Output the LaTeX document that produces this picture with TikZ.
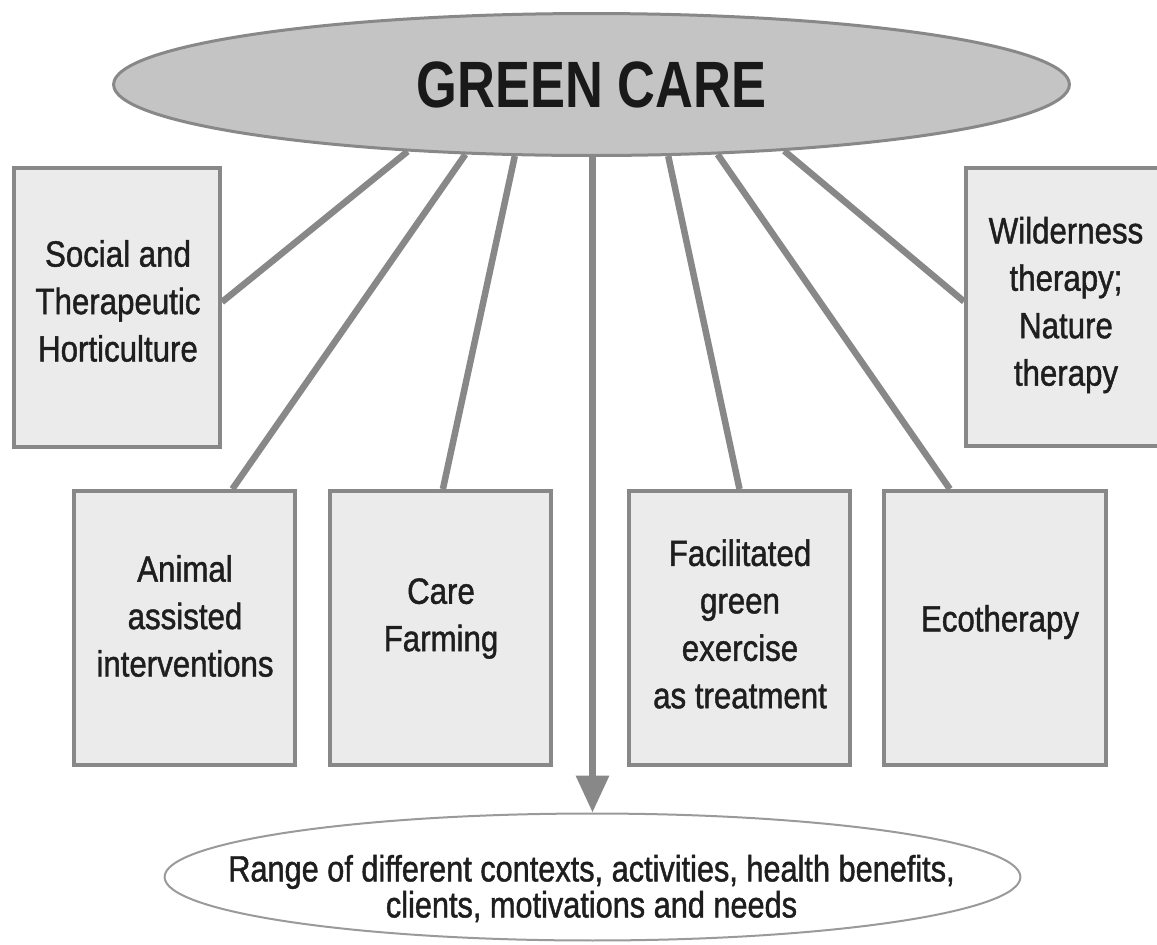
\documentclass[tikz,border=0pt]{standalone}
\usepackage{fontspec}
\setmainfont{Liberation Sans}
\newfontfamily\boxfont[FakeStretch=0.855,FakeBold=1.2]{Liberation Sans}
\newfontfamily\ctxfont[FakeStretch=0.84,FakeBold=1.2]{Liberation Sans}
\newfontfamily\titlefont[FakeStretch=0.80]{Liberation Sans Bold}
\usetikzlibrary{shapes.geometric,arrows.meta}
\definecolor{linegray}{HTML}{888888}
\definecolor{boxfill}{HTML}{EBEBEB}
\definecolor{topfill}{HTML}{C4C4C4}
\definecolor{txt}{HTML}{1E1E1E}
\begin{document}
\begin{tikzpicture}[x=0.02cm,y=-0.02cm,
  box/.style={draw=linegray, line width=0.08cm, fill=boxfill, inner sep=0pt, rectangle},
  upbox/.style={box, minimum width=4.12cm, minimum height=5.58cm},
  lowbox/.style={box, minimum width=4.44cm, minimum height=5.48cm},
  lbl/.style={align=center, text=txt, font=\boxfont\fontsize{20.8}{27}\selectfont, inner sep=0pt},
  conn/.style={draw=linegray, line width=0.13cm},
]
\useasboundingbox (0,0) rectangle (1157,944);

% top ellipse
\node[ellipse, draw=linegray, line width=0.06cm, fill=topfill, minimum width=19.12cm,
      minimum height=2.84cm, inner sep=0pt, text=black!90,
      font=\titlefont\fontsize{37.3}{40}\selectfont] (top) at (591.5,84.5) {GREEN CARE};

% boxes
\node[upbox] (social) at (117,307.5) {};
\node[upbox] (wild) at (1069,307) {};
\node[lowbox] (animal) at (184.5,628) {};
\node[lowbox] (care) at (440.5,628) {};
\node[lowbox] (facil) at (739.5,628) {};
\node[lowbox] (eco) at (995,628) {};

% labels
\node[lbl] (sociallbl) at (118,301) {Social and\\Therapeutic\\Horticulture};
\node[lbl] (wildlbl) at (1066,305) {Wilderness\\therapy;\\Nature\\therapy};
\node[lbl] (animallbl) at (185,616) {Animal\\assisted\\interventions};
\node[lbl] (carelbl) at (441,618.5) {Care\\Farming};
\node[lbl] (facillbl) at (740,624) {Facilitated\\green\\exercise\\as treatment};
\node[lbl] (ecolbl) at (1000,622) {Ecotherapy};

% bottom ellipse
\node[ellipse, draw=linegray!85, line width=0.04cm, fill=white, minimum width=17.12cm,
      minimum height=2.54cm, inner sep=0pt] (ctx) at (592.5,877) {};
\node[align=center, inner sep=0pt, text=txt,
      font=\ctxfont\fontsize{20.8}{20.5}\selectfont] (ctxlbl) at (591.5,888.5)
      {Range of different contexts, activities, health benefits,\\clients, motivations and needs};

% connectors
\draw[conn] (social.3) -- (top.200.2);
\draw[conn] (animal.71.6) -- (top.209.5);
\draw[conn] (care.89) -- (top.223);
\draw[conn] (facil.north) -- (top.317.4);
\draw[conn] (eco.108.2) -- (top.331.1);
\draw[conn] (wild.177.8) -- (top.341.1);
\draw[conn, -{Triangle[length=0.74cm,width=0.64cm]}] (top.south -| ctx.north) -- (ctx.north);
\end{tikzpicture}
\end{document}
